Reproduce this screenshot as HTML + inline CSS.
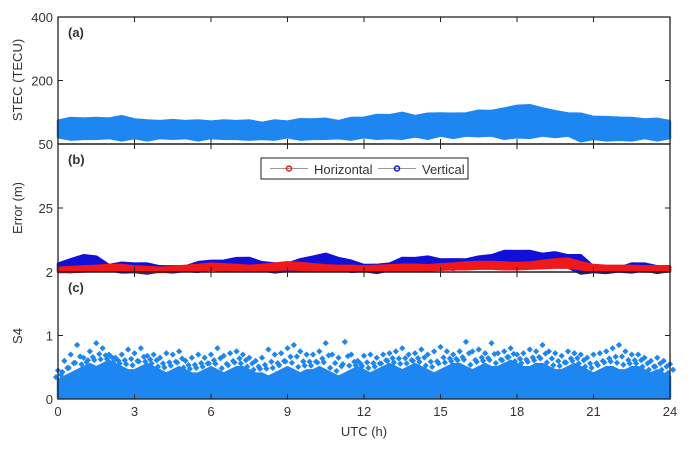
<!DOCTYPE html>
<html><head><meta charset="utf-8"><style>
body{margin:0;background:#fff;}
svg text{font-family:"Liberation Sans",sans-serif;fill:#333;}
</style></head><body>
<svg id="c" width="700" height="448" xmlns="http://www.w3.org/2000/svg"></svg>
<script>
// data (per 0.5 h, 0..24)
const hours=[];for(let i=0;i<=48;i++)hours.push(i*0.5);
const stecUpper=[105,108,110,108,110,112,108,102,104,103,104,102,103,102,104,102,100,102,103,105,108,106,104,108,112,115,118,120,116,118,122,118,122,125,128,130,140,138,134,124,122,118,114,110,112,108,108,106,104];
const stecLower=[66,64,62,66,64,62,64,62,64,66,64,62,64,66,62,64,62,64,66,64,62,66,64,64,66,66,64,66,68,66,70,68,70,72,70,66,66,68,70,70,70,60,62,62,60,62,64,62,64];
const vertUpper=[5,6,8,7,4.5,4.8,5,4.5,4,3.5,4,5,6,5.5,7,6.5,5.5,4.5,5,6,7.5,8,7,5.5,4.5,4,5,6.5,7,7,6.5,6,6.5,7,8,9,9.5,9,8.5,8.5,8,7.5,4,3.5,3.5,4.5,5,3.5,4];
const vertLower=[2.5,2.5,2.8,3,2.6,2.4,2,2,2.2,2.4,2.4,2.6,3,2.8,3,3,2.6,2.4,2.4,2.8,3,3.2,3,2.6,2.4,2.2,2.6,3,3.2,3.2,3.4,3.4,3.6,3.8,4,4.2,4.4,4.4,4.2,4.2,3.6,2,2,2.2,2.2,2.4,2.6,2.2,2.4];
const horUpper=[3.5,3.8,4,4.2,4.5,4.5,4,3.8,3.5,3.8,4.2,4.5,5,4.8,4.5,4.2,4.5,5,5.5,5.2,4.8,4.4,4.2,4.2,4,4.2,4.4,4.6,4.6,4.4,4.8,5,5.4,5.6,5.6,5.4,5.2,5.4,6,6.5,6.8,5.5,4.5,4.2,4.2,4.2,4,4,4];
const horLower=[2,2,2.2,2.4,2.6,2.4,2.2,2,2,2.2,2.4,2.6,2.8,2.8,2.6,2.4,2.6,2.8,3,2.8,2.6,2.4,2.4,2.4,2.2,2.4,2.6,2.6,2.6,2.6,2.8,3,3,3.2,3.2,3,3,3.2,3.4,3.6,3.6,3,2.4,2.4,2.4,2.4,2.2,2.2,2.2];
// S4 per 0.25 h
const s4Base=[0.3,0.35,0.4,0.45,0.5,0.55,0.5,0.55,0.6,0.55,0.5,0.45,0.45,0.5,0.55,0.5,0.45,0.4,0.45,0.5,0.45,0.4,0.4,0.45,0.5,0.45,0.4,0.45,0.5,0.5,0.45,0.4,0.4,0.35,0.4,0.45,0.5,0.45,0.4,0.45,0.45,0.5,0.45,0.4,0.35,0.4,0.45,0.5,0.45,0.4,0.45,0.5,0.55,0.5,0.45,0.5,0.55,0.5,0.45,0.4,0.45,0.5,0.55,0.55,0.5,0.45,0.5,0.55,0.5,0.5,0.55,0.6,0.55,0.5,0.5,0.55,0.55,0.5,0.45,0.45,0.5,0.55,0.5,0.45,0.4,0.45,0.5,0.5,0.45,0.45,0.5,0.5,0.45,0.4,0.45,0.4,0.35];
const s4Peak=[0.45,0.6,0.7,0.85,0.65,0.75,0.88,0.8,0.7,0.65,0.7,0.78,0.72,0.8,0.68,0.7,0.65,0.72,0.7,0.75,0.6,0.65,0.7,0.65,0.7,0.8,0.68,0.72,0.75,0.7,0.65,0.6,0.65,0.78,0.7,0.72,0.8,0.85,0.75,0.7,0.7,0.75,0.88,0.7,0.65,0.9,0.7,0.6,0.68,0.7,0.65,0.7,0.72,0.75,0.8,0.7,0.72,0.78,0.7,0.75,0.82,0.75,0.7,0.75,0.9,0.75,0.78,0.72,0.88,0.72,0.75,0.8,0.7,0.72,0.78,0.75,0.85,0.75,0.72,0.68,0.75,0.72,0.7,0.65,0.7,0.72,0.75,0.8,0.85,0.75,0.7,0.7,0.65,0.6,0.65,0.6,0.55];
const xTicks=[0,3,6,9,12,15,18,21,24];

const L=58,R=670;
const P={a:[17,144],b:[144,272],c:[272,399]};
const X=h=>L+h/24*(R-L);
const Ya=v=>v<=200?144-(v-50)/150*63.5:80.5-(v-200)/200*63.5;
const Yb=v=>272-(v-2)/23*64;
const Yc=v=>399-v*63.5;
const svg=document.getElementById('c');const NS='http://www.w3.org/2000/svg';
function el(t,a,txt){const e=document.createElementNS(NS,t);for(const k in a)e.setAttribute(k,a[k]);if(txt!=null)e.textContent=txt;svg.appendChild(e);return e;}
function band(xs,up,lo,Y,fill,name,jag){
  let d='';xs.forEach((h,i)=>{d+=(i?'L':'M')+X(h)+','+(Y(up[i])-(jag&&i%2?1.5:0));});
  for(let i=xs.length-1;i>=0;i--)d+='L'+X(xs[i])+','+(Y(lo[i])+(jag&&i%2?1.5:0));
  const p=el('path',{d:d+'Z',fill:fill,stroke:fill,'stroke-width':2.5,'stroke-linejoin':'round'});
  
}
band(hours,stecUpper,stecLower,Ya,'#1e86f0','stec-series',true);
band(hours,vertUpper,vertLower,Yb,'#1010d8','vertical-error-series',true);
band(hours,horUpper,horLower,Yb,'#f01818','horizontal-error-series',false);
// S4
const s4x=s4Base.map((_,i)=>i*0.25);
const s4zero=s4Base.map(()=>0.02);
function dot(x,y){const c=el('rect',{x:x-2.2,y:y-2.2,width:4.4,height:4.4,fill:'#1e86f0',transform:`rotate(45 ${x} ${y})`});
  }
s4Peak.forEach((v,i)=>{
  const x=X(i*0.25), b=s4Base[i];
  dot(x,Yc(v));
  dot(x+3,Yc(b+(v-b)*0.55));
  dot(x-2,Yc(b+(v-b)*0.3));
});
band(s4x,s4Base,s4zero,Yc,'#1e86f0','s4-series',false);
// frames
for(const k in P){const [t,b]=P[k];
  const r=el('rect',{x:L,y:t,width:R-L,height:b-t,fill:'none',stroke:'#222','stroke-width':1.3});
  
  xTicks.forEach(h=>{el('line',{x1:X(h),x2:X(h),y1:b,y2:b-5,stroke:'#222'});el('line',{x1:X(h),x2:X(h),y1:t,y2:t+5,stroke:'#222'});});
  const lb=el('text',{x:68,y:t+20,'font-size':13,'font-weight':'bold',fill:'#111'},'('+k+')');
  
}
function ytick(y,label,name){el('line',{x1:L,x2:L+5,y1:y,y2:y,stroke:'#222'});el('line',{x1:R,x2:R-5,y1:y,y2:y,stroke:'#222'});
  if(label!=null){const t=el('text',{x:L-5,y:y+5,'font-size':13,'text-anchor':'end'},label);}}
ytick(Ya(400),'400','y-tick-stec');ytick(Ya(200),'200','y-tick-stec');ytick(Ya(50),'50','y-tick-stec');
ytick(Yb(25),'25','y-tick-error');ytick(Yb(2),'2','y-tick-error');
ytick(Yc(1),'1','y-tick-s4');ytick(Yc(0),'0','y-tick-s4');
xTicks.forEach(h=>{const t=el('text',{x:X(h),y:416,'font-size':13,'text-anchor':'middle'},String(h));});
function ylab(y,s,n){const t=el('text',{x:0,y:0,'font-size':13,'text-anchor':'middle',transform:`translate(22,${y}) rotate(-90)`},s);}
ylab(80,'STEC (TECU)','y-axis-title-stec');ylab(208,'Error (m)','y-axis-title-error');ylab(336,'S4','y-axis-title-s4');
const xt=el('text',{x:364,y:436,'font-size':13,'text-anchor':'middle'},'UTC (h)');
// legend
const lg=el('rect',{x:261,y:158,width:207,height:21,fill:'#fff',stroke:'#222'});
el('line',{x1:270,x2:308,y1:168.5,y2:168.5,stroke:'#999'});el('circle',{cx:289,cy:168.5,r:2.5,fill:'none',stroke:'#f01818','stroke-width':1.5});
const t1=el('text',{x:314,y:174,'font-size':13},'Horizontal');
el('line',{x1:378,x2:416,y1:168.5,y2:168.5,stroke:'#999'});el('circle',{cx:397,cy:168.5,r:2.5,fill:'none',stroke:'#1010d8','stroke-width':1.5});
const t2=el('text',{x:422,y:174,'font-size':13},'Vertical');
</script>
</body></html>
